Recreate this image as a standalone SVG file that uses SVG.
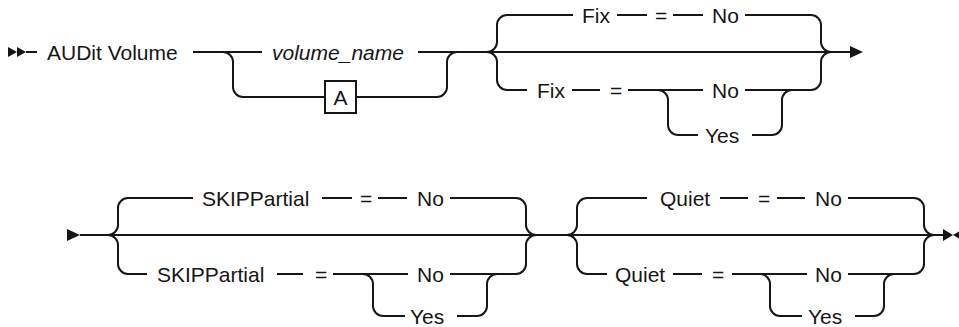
<svg xmlns="http://www.w3.org/2000/svg" width="959" height="327" viewBox="0 0 959 327">
<style>
.ln{fill:none;stroke:#161616;stroke-width:2}
.ah{fill:#161616;stroke:none}
text{font-family:"Liberation Sans",Arial,sans-serif;font-size:21px;fill:#161616}
.it{font-style:italic}
.box{fill:#fff;stroke:#161616;stroke-width:2}
</style>
<rect width="959" height="327" fill="#fff"/>
<g id="connectors">
<polygon class="ah" points="8,47 17,52 8,57"/>
<polygon class="ah" points="17,47 26,52 17,57"/>
<path class="ln" d="M26,52 H37"/>
<path class="ln" d="M193,52 H262"/>
<path class="ln" d="M223,52 a10,10 0 0 1 10,10 V87 a10,10 0 0 0 10,10 H325"/>
<path class="ln" d="M356,97 H437 a10,10 0 0 0 10,-10 V62 a10,10 0 0 1 10,-10"/>
<path class="ln" d="M418,52 H850"/>
<path class="ln" d="M487,52 a10,10 0 0 0 10,-10 V25 a10,10 0 0 1 10,-10 H573"/>
<path class="ln" d="M617,15 H647 M673,15 H703"/>
<path class="ln" d="M745,15 H811 a10,10 0 0 1 10,10 V42 a10,10 0 0 0 10,10"/>
<path class="ln" d="M487,52 a10,10 0 0 1 10,10 V80 a10,10 0 0 0 10,10 H527"/>
<path class="ln" d="M572,90 H600 M628,90 H703"/>
<path class="ln" d="M745,90 H811 a10,10 0 0 0 10,-10 V62 a10,10 0 0 1 10,-10"/>
<path class="ln" d="M658,90 a10,10 0 0 1 10,10 V125 a10,10 0 0 0 10,10 H698"/>
<path class="ln" d="M752,135 H772 a10,10 0 0 0 10,-10 V100 a10,10 0 0 1 10,-10"/>
<polygon class="ah" points="850,46 863,52 850,58"/>

<polygon class="ah" points="67,229 80,235 67,241"/>
<path class="ln" d="M80,235 H943"/>
<path class="ln" d="M108,235 a10,10 0 0 0 10,-10 V208 a10,10 0 0 1 10,-10 H193"/>
<path class="ln" d="M322,198 H352 M378,198 H407"/>
<path class="ln" d="M450,198 H516 a10,10 0 0 1 10,10 V225 a10,10 0 0 0 10,10"/>
<path class="ln" d="M108,235 a10,10 0 0 1 10,10 V264 a10,10 0 0 0 10,10 H147"/>
<path class="ln" d="M277,274 H303 M333,274 H408"/>
<path class="ln" d="M450,274 H516 a10,10 0 0 0 10,-10 V245 a10,10 0 0 1 10,-10"/>
<path class="ln" d="M363,274 a10,10 0 0 1 10,10 V306 a10,10 0 0 0 10,10 H405"/>
<path class="ln" d="M457,316 H477 a10,10 0 0 0 10,-10 V284 a10,10 0 0 1 10,-10"/>
<path class="ln" d="M567,235 a10,10 0 0 0 10,-10 V208 a10,10 0 0 1 10,-10 H647"/>
<path class="ln" d="M720,198 H748 M777,198 H805"/>
<path class="ln" d="M848,198 H914 a10,10 0 0 1 10,10 V225 a10,10 0 0 0 10,10"/>
<path class="ln" d="M567,235 a10,10 0 0 1 10,10 V264 a10,10 0 0 0 10,10 H607"/>
<path class="ln" d="M673,274 H702 M732,274 H807"/>
<path class="ln" d="M848,274 H914 a10,10 0 0 0 10,-10 V245 a10,10 0 0 1 10,-10"/>
<path class="ln" d="M760,274 a10,10 0 0 1 10,10 V306 a10,10 0 0 0 10,10 H802"/>
<path class="ln" d="M855,316 H874 a10,10 0 0 0 10,-10 V284 a10,10 0 0 1 10,-10"/>
<polygon class="ah" points="943,229 953,235 943,241"/>
<polygon class="ah" points="963,229 953,235 963,241"/>
</g>
<g id="n-audit"><text x="47" y="59.5">AUDit Volume</text></g>
<g id="n-volume-name"><text class="it" x="272" y="59.5">volume_name</text></g>
<g id="n-A"><rect class="box" x="325" y="81" width="31" height="32"/><text x="340.5" y="104.5" text-anchor="middle">A</text></g>
<g id="n-fix1"><text x="582" y="22.5">Fix</text></g>
<g id="n-eq1"><text x="655" y="22.5">=</text></g>
<g id="n-no1"><text x="712" y="22.5">No</text></g>
<g id="n-fix2"><text x="537" y="97.5">Fix</text></g>
<g id="n-eq2"><text x="610" y="97.5">=</text></g>
<g id="n-no2"><text x="712" y="97.5">No</text></g>
<g id="n-yes1"><text x="705" y="142.5">Yes</text></g>
<g id="n-skip1"><text x="202" y="205.5">SKIPPartial</text></g>
<g id="n-eq3"><text x="360" y="205.5">=</text></g>
<g id="n-no3"><text x="417" y="205.5">No</text></g>
<g id="n-skip2"><text x="157" y="281.5">SKIPPartial</text></g>
<g id="n-eq4"><text x="315" y="281.5">=</text></g>
<g id="n-no4"><text x="417" y="281.5">No</text></g>
<g id="n-yes2"><text x="410" y="323.5">Yes</text></g>
<g id="n-quiet1"><text x="660" y="205.5">Quiet</text></g>
<g id="n-eq5"><text x="758" y="205.5">=</text></g>
<g id="n-no5"><text x="815" y="205.5">No</text></g>
<g id="n-quiet2"><text x="615" y="281.5">Quiet</text></g>
<g id="n-eq6"><text x="712" y="281.5">=</text></g>
<g id="n-no6"><text x="815" y="281.5">No</text></g>
<g id="n-yes3"><text x="808" y="323.5">Yes</text></g>
</svg>
